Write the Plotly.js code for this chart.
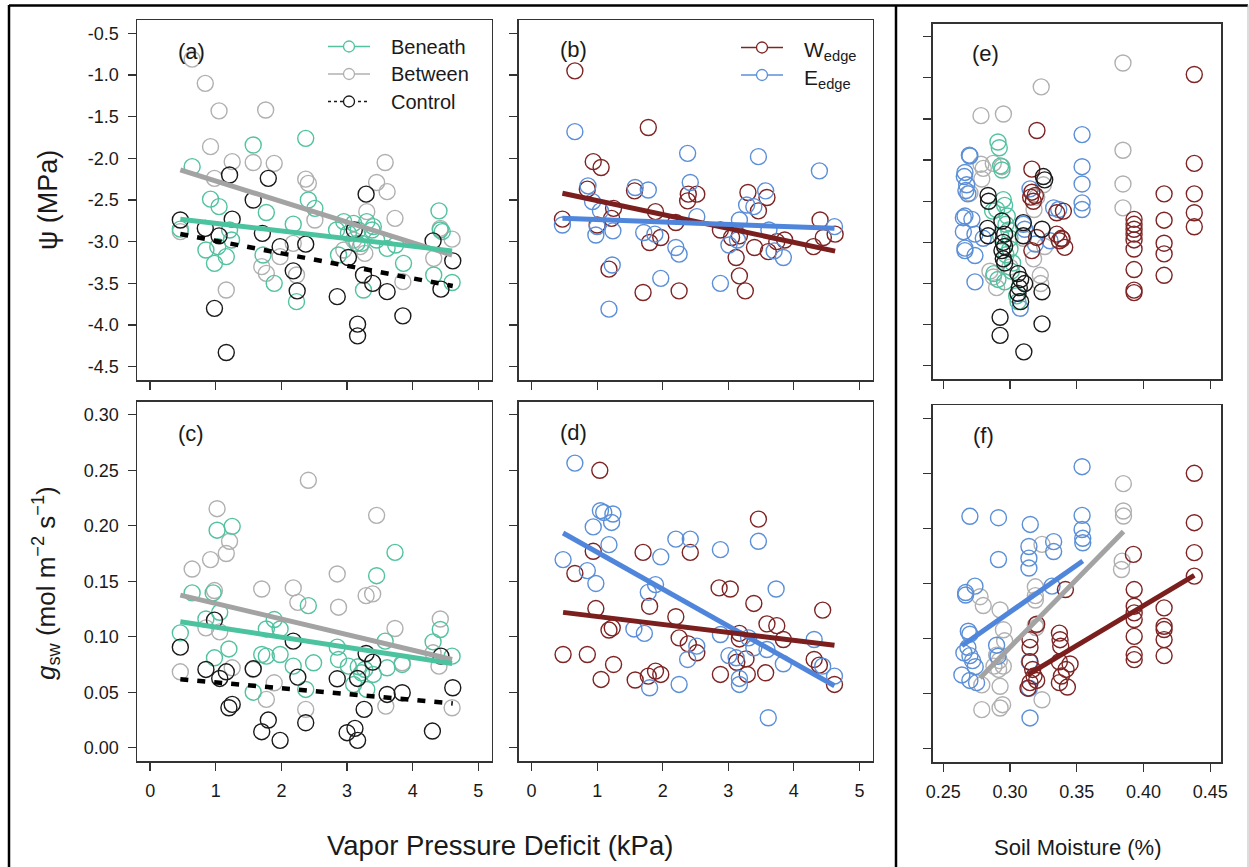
<!DOCTYPE html>
<html><head><meta charset="utf-8">
<script src="https://cdn.plot.ly/plotly-3.0.1.min.js"></script>
<style>html,body{margin:0;padding:0;background:#fff;}#chart{width:1249px;height:867px;}</style>
</head><body><div id="chart"></div>
<script>
// ---------- DATA ----------
// Panel (a): water potential vs VPD
const aBeneathVpd = [0.64,0.46,0.85,0.92,1.05,0.98,1.03,1.16,1.24,1.21,1.57,1.77,1.72,1.89,2.37,2.41,2.51,2.18,2.23,2.84,2.95,2.87,3.02,3.10,3.17,3.22,3.30,3.38,3.40,3.45,3.25,3.61,3.86,4.40,4.42,4.32,4.60,4.45,3.74,3.15];
const aBeneathPsi = [-2.10,-2.85,-3.10,-2.49,-2.58,-3.26,-3.06,-3.18,-2.98,-2.86,-1.84,-2.65,-3.16,-3.50,-1.76,-2.50,-2.60,-2.79,-3.72,-2.86,-2.76,-3.16,-2.90,-2.78,-2.86,-3.02,-2.76,-2.86,-2.82,-2.98,-3.58,-3.08,-3.26,-2.63,-2.86,-3.40,-3.49,-2.88,-3.04,-3.02];
const aBetweenVpd = [0.64,0.84,1.05,0.92,0.98,1.25,1.76,1.57,1.89,1.16,1.70,1.77,1.98,2.18,2.23,2.37,2.41,2.51,3.58,3.45,3.61,3.30,3.73,3.20,3.27,3.85,4.32,4.42,4.60,0.46,2.95,3.10];
const aBetweenPsi = [-0.81,-1.10,-1.43,-1.86,-2.24,-2.04,-1.42,-2.05,-2.06,-3.58,-3.30,-3.38,-3.18,-3.02,-3.40,-2.25,-2.30,-2.74,-2.05,-2.29,-2.40,-2.64,-2.72,-3.06,-3.14,-3.48,-3.20,-2.84,-2.97,-2.88,-3.10,-2.98];
const aControlVpd = [0.46,0.84,1.05,1.25,1.21,0.98,1.16,1.57,1.71,1.80,1.98,2.18,2.24,2.37,2.85,3.02,3.11,3.29,3.25,3.39,3.16,3.16,3.61,3.85,4.31,4.43,4.61];
const aControlPsi = [-2.74,-2.84,-2.93,-2.73,-2.20,-3.80,-4.33,-2.50,-2.90,-2.24,-3.06,-3.35,-3.59,-3.03,-3.66,-3.19,-2.86,-2.43,-3.40,-3.50,-3.99,-4.13,-3.60,-3.89,-2.99,-3.57,-3.23];
// Panel (b)
const bWedgeVpd = [0.66,1.78,0.94,1.06,0.85,0.47,1.00,1.25,1.22,1.57,1.89,1.80,1.97,1.18,1.70,2.25,2.20,2.39,2.52,2.38,2.88,3.05,3.17,3.12,3.17,3.26,3.30,3.46,3.59,3.40,3.61,3.74,3.86,4.30,4.40,4.45,4.63];
const bWedgePsi = [-0.95,-1.63,-2.04,-2.11,-2.37,-2.73,-2.80,-2.60,-2.72,-2.39,-2.64,-3.01,-2.95,-3.33,-3.61,-3.59,-2.77,-2.43,-2.43,-2.51,-2.86,-2.95,-2.93,-3.19,-3.41,-3.59,-2.41,-2.63,-2.47,-3.07,-3.12,-3.00,-2.98,-3.06,-2.74,-2.95,-2.91];
const bEedgeVpd = [0.66,0.47,0.86,0.93,1.05,0.98,1.24,1.23,1.18,1.58,1.78,1.71,1.88,1.97,2.38,2.42,2.52,2.20,2.25,2.88,3.01,3.17,3.28,3.39,3.46,3.57,3.62,3.84,3.70,4.39,4.62,3.14,1.00];
const bEedgePsi = [-1.68,-2.80,-2.33,-2.52,-2.63,-2.92,-2.87,-3.28,-3.81,-2.35,-2.38,-2.89,-2.91,-3.44,-1.94,-2.29,-2.70,-3.07,-3.15,-3.50,-3.04,-2.74,-2.56,-2.58,-1.98,-2.39,-2.86,-3.19,-3.11,-2.15,-2.82,-2.98,-2.82];
// Panel (c): stomatal conductance vs VPD
const cBeneathVpd = [0.46,0.64,0.96,1.02,1.25,1.06,0.98,1.20,1.57,1.70,1.77,1.77,1.89,1.98,1.98,2.18,2.41,2.37,2.49,2.85,2.87,3.02,3.10,3.17,3.22,3.27,3.30,3.40,3.45,3.58,3.61,3.73,3.84,4.31,4.42,4.60,0.85];
const cBeneathGsw = [0.1035,0.1395,0.1395,0.196,0.1995,0.122,0.081,0.089,0.050,0.084,0.0825,0.107,0.1155,0.084,0.107,0.0735,0.128,0.0525,0.0765,0.0906,0.0795,0.0735,0.057,0.073,0.0675,0.0705,0.0525,0.066,0.155,0.096,0.072,0.176,0.075,0.0954,0.1065,0.0825,0.116];
const cBetweenVpd = [0.46,0.64,0.92,1.02,1.16,1.21,0.85,0.98,1.06,1.25,1.70,1.57,1.77,1.89,2.18,2.25,2.41,2.37,2.85,2.87,3.29,3.39,3.45,3.73,3.59,3.84,4.42,4.40,4.31,4.60];
const cBetweenGsw = [0.0684,0.161,0.1695,0.2154,0.175,0.186,0.108,0.1416,0.1044,0.072,0.143,0.0705,0.0435,0.0585,0.144,0.131,0.241,0.0345,0.1566,0.1266,0.137,0.1386,0.2094,0.1074,0.0375,0.0765,0.116,0.0735,0.0855,0.036];
const cControlVpd = [0.46,0.85,0.98,1.06,1.16,1.20,1.25,1.57,1.70,1.80,1.98,2.18,2.25,2.37,2.85,3.00,3.12,3.16,3.16,3.26,3.29,3.39,3.61,3.84,4.30,4.43,4.61];
const cControlGsw = [0.0906,0.0705,0.115,0.0624,0.0684,0.036,0.039,0.0711,0.0144,0.0249,0.0066,0.096,0.0636,0.0225,0.0621,0.0135,0.0174,0.0624,0.0066,0.0345,0.0849,0.0771,0.048,0.0495,0.015,0.0825,0.054];
// Panel (d)
const dEedgeVpd = [0.66,1.05,1.10,1.24,1.22,0.94,1.18,0.48,0.85,0.98,1.78,1.89,1.97,2.20,2.42,2.88,3.46,3.73,1.56,1.72,2.52,2.38,1.80,2.25,2.88,3.01,3.12,3.17,3.17,3.31,3.39,3.59,3.84,3.61,4.31,4.44,4.62];
const dEedgeGsw = [0.2565,0.2136,0.212,0.2106,0.203,0.199,0.183,0.1695,0.1596,0.148,0.140,0.147,0.172,0.188,0.188,0.1785,0.186,0.143,0.107,0.103,0.0915,0.0795,0.054,0.057,0.102,0.083,0.081,0.0624,0.057,0.099,0.090,0.0885,0.0756,0.027,0.0975,0.0735,0.0645];
const dWedgeVpd = [1.04,0.66,0.94,0.98,0.48,0.85,1.06,1.25,1.18,1.23,1.70,1.80,1.58,1.78,1.89,1.97,2.20,2.42,2.25,2.39,2.52,2.86,3.03,2.88,3.17,3.17,3.13,3.27,3.29,3.39,3.46,3.59,3.74,3.84,3.57,4.31,4.39,4.44,4.62];
const dWedgeGsw = [0.250,0.157,0.177,0.1254,0.084,0.084,0.0615,0.075,0.106,0.108,0.176,0.1275,0.061,0.0645,0.069,0.066,0.118,0.176,0.099,0.0936,0.0855,0.144,0.143,0.066,0.103,0.098,0.077,0.080,0.066,0.130,0.206,0.1116,0.110,0.0975,0.0675,0.0795,0.0744,0.124,0.057];
// Panel (e): water potential vs soil moisture
const eBeneathSm  = [0.291,0.292,0.293,0.294,0.295,0.296,0.297,0.299,0.300,0.288,0.291,0.296,0.305,0.306,0.290,0.300,0.302,0.298,0.293,0.297,0.287,0.301];
const eBeneathPsi = [-1.78,-1.85,-2.07,-2.12,-2.48,-2.55,-2.78,-2.85,-3.08,-3.38,-3.45,-3.48,-3.65,-3.72,-2.60,-2.95,-3.25,-2.68,-2.92,-3.15,-2.62,-3.35];
const eBetweenSm  = [0.3846,0.3234,0.2783,0.2951,0.3846,0.3846,0.3846,0.2783,0.2875,0.280,0.2789,0.294,0.3227,0.2876,0.3177,0.323,0.325,0.300,0.285,0.318,0.310,0.270,0.326,0.290,0.320];
const eBetweenPsi = [-0.82,-1.11,-1.46,-1.44,-1.88,-2.29,-2.58,-2.05,-2.04,-2.10,-2.23,-2.08,-3.40,-3.42,-3.20,-3.50,-2.30,-3.30,-3.35,-2.60,-2.95,-2.40,-3.05,-3.55,-2.45];
const eControlSm  = [0.325,0.326,0.2836,0.2840,0.2832,0.2836,0.294,0.295,0.296,0.295,0.296,0.310,0.310,0.324,0.306,0.308,0.307,0.306,0.308,0.324,0.2926,0.2926,0.324,0.3104,0.296,0.311,0.294];
const eControlPsi = [-2.20,-2.24,-2.43,-2.50,-2.83,-2.92,-2.74,-3.00,-3.05,-3.20,-3.25,-2.76,-2.92,-2.84,-3.38,-3.45,-3.55,-3.62,-3.72,-3.60,-3.91,-4.13,-3.99,-4.33,-2.90,-3.50,-3.10];
const eWedgeSm  = [0.438,0.3202,0.438,0.438,0.438,0.438,0.4154,0.4154,0.4154,0.4154,0.4154,0.3929,0.3929,0.3929,0.3929,0.3929,0.3929,0.3929,0.3929,0.3929,0.3164,0.3164,0.319,0.3155,0.335,0.340,0.335,0.3386,0.341,0.337,0.3164,0.320,0.3175,0.339];
const eWedgePsi = [-0.96,-1.64,-2.04,-2.41,-2.64,-2.81,-2.41,-2.73,-3.01,-3.14,-3.40,-2.72,-2.78,-2.84,-2.90,-2.97,-3.08,-3.33,-3.58,-3.61,-2.11,-2.39,-2.43,-2.45,-2.64,-2.62,-2.90,-2.95,-3.06,-2.98,-3.10,-2.94,-2.50,-2.96];
const eEedgeSm  = [0.354,0.354,0.354,0.354,0.354,0.2696,0.2663,0.267,0.2685,0.2663,0.2715,0.2651,0.2738,0.2663,0.2738,0.2738,0.315,0.310,0.311,0.319,0.330,0.3327,0.3365,0.2676,0.2658,0.270,0.2651,0.3077,0.2663,0.280];
const eEedgePsi = [-1.69,-2.08,-2.29,-2.52,-2.60,-1.94,-2.15,-2.37,-2.41,-2.68,-2.72,-2.87,-2.90,-3.07,-3.16,-3.48,-2.35,-2.78,-2.84,-3.02,-2.98,-2.58,-2.60,-2.30,-2.20,-1.95,-2.70,-3.80,-3.10,-2.95];
// Panel (f): stomatal conductance vs soil moisture
const fEedgeSm  = [0.354,0.270,0.2914,0.3152,0.354,0.354,0.3545,0.3545,0.2914,0.3142,0.3142,0.3142,0.3327,0.3327,0.3315,0.2668,0.2668,0.2738,0.2688,0.2700,0.2685,0.2700,0.2720,0.2740,0.264,0.270,0.275,0.290,0.291,0.3145,0.3145,0.315,0.2655];
const fEedgeGsw = [0.256,0.211,0.2097,0.2036,0.2118,0.199,0.191,0.187,0.1718,0.1836,0.173,0.164,0.188,0.179,0.1476,0.1418,0.1395,0.1476,0.1067,0.104,0.092,0.0845,0.080,0.0745,0.067,0.062,0.060,0.094,0.084,0.079,0.055,0.028,0.087];
const fBetweenSm  = [0.3849,0.3849,0.385,0.384,0.3835,0.324,0.319,0.319,0.319,0.2926,0.2776,0.319,0.3195,0.2951,0.290,0.292,0.295,0.288,0.2915,0.2789,0.2926,0.2789,0.2926,0.2945,0.324,0.296,0.280];
const fBetweenGsw = [0.2406,0.2158,0.2112,0.1703,0.1627,0.1855,0.147,0.139,0.135,0.126,0.138,0.112,0.110,0.108,0.085,0.080,0.075,0.075,0.072,0.058,0.0567,0.0355,0.037,0.040,0.0445,0.098,0.130];
const fWedgeSm  = [0.438,0.438,0.438,0.438,0.3924,0.393,0.393,0.393,0.393,0.393,0.393,0.393,0.4154,0.4154,0.4154,0.4154,0.4154,0.3415,0.315,0.315,0.320,0.337,0.3375,0.338,0.315,0.317,0.318,0.315,0.320,0.3135,0.337,0.342,0.3385,0.337,0.343,0.345];
const fWedgeGsw = [0.250,0.2052,0.178,0.1567,0.1764,0.1445,0.1294,0.1233,0.1173,0.102,0.0855,0.0809,0.1279,0.1112,0.1082,0.0991,0.0845,0.1445,0.099,0.092,0.113,0.105,0.099,0.093,0.079,0.072,0.066,0.060,0.062,0.055,0.079,0.072,0.066,0.060,0.056,0.077];
// Linear fits [intercept, slope]
const fitA_Beneath = [-2.689, -0.0916];
const fitA_Between = [-2.024, -0.247];
const fitA_Control = [-2.84, -0.150];
const fitB_Wedge = [-2.34, -0.167];
const fitB_Eedge = [-2.706, -0.029];
const fitC_Beneath = [0.1177, -0.00908];
const fitC_Between = [0.144, -0.01402];
const fitC_Control = [0.0641, -0.00525];
const fitD_Eedge = [0.2095, -0.03327];
const fitD_Wedge = [0.1254, -0.00717];
const fitF_Eedge = [-0.1311, 0.8506];
const fitF_Between = [-0.2792, 1.2375];
const fitF_Wedge = [-0.1595, 0.7234];
// Tick values and legend labels
const vpdTicks = [0,1,2,3,4,5];
const psiTicks = [-0.5,-1.0,-1.5,-2.0,-2.5,-3.0,-3.5,-4.0,-4.5];
const gswTicks = [0,0.05,0.10,0.15,0.20,0.25,0.30];
const smTicks = [0.25,0.30,0.35,0.40,0.45];
const legendSiteNames = ['Beneath','Between','Control'];
const legendEdgeNames = ['W<sub>edge</sub>','E<sub>edge</sub>'];

// ---------- STYLE ----------
const C = {
  beneath: '#52c2a0', beneathLine: '#4cc39f',
  between: '#b0b0b0', betweenLine: '#a3a3a3',
  control: '#1a1a1a', controlLine: '#000000',
  wedge: '#7e2424', wedgeLine: '#7a1e1e',
  eedge: '#5b8fd8', eedgeLine: '#4f86dc'
};
const FONT = 'Liberation Sans, Arial, Helvetica, sans-serif';
const W = 1249, H = 867;
const px = v => v / W, py = v => 1 - v / H;

function pts(x, y, color, xa, ya) {
  return {x: x, y: y, type: 'scatter', mode: 'markers', xaxis: xa, yaxis: ya, showlegend: false, hoverinfo: 'skip',
    marker: {symbol: 'circle-open', size: 16, color: color, line: {width: 1.4, color: color}}};
}
function fit(coef, xs, color, xa, ya, dash) {
  const x0 = Math.min.apply(null, xs), x1 = Math.max.apply(null, xs);
  return {x: [x0, x1], y: [coef[0] + coef[1] * x0, coef[0] + coef[1] * x1], type: 'scatter', mode: 'lines',
    xaxis: xa, yaxis: ya, showlegend: false, hoverinfo: 'skip',
    line: {color: color, width: dash ? 4.5 : 5, dash: dash || 'solid'}};
}

const traces = [
  // (a)
  pts(aBetweenVpd, aBetweenPsi, C.between, 'x', 'y'),
  pts(aBeneathVpd, aBeneathPsi, C.beneath, 'x', 'y'),
  pts(aControlVpd, aControlPsi, C.control, 'x', 'y'),
  fit(fitA_Between, aBetweenVpd, C.betweenLine, 'x', 'y'),
  fit(fitA_Beneath, aBeneathVpd, C.beneathLine, 'x', 'y'),
  fit(fitA_Control, aControlVpd, C.controlLine, 'x', 'y', '8px,9px'),
  // (b)
  pts(bWedgeVpd, bWedgePsi, C.wedge, 'x2', 'y2'),
  pts(bEedgeVpd, bEedgePsi, C.eedge, 'x2', 'y2'),
  fit(fitB_Wedge, bWedgeVpd, C.wedgeLine, 'x2', 'y2'),
  fit(fitB_Eedge, bEedgeVpd, C.eedgeLine, 'x2', 'y2'),
  // (e)
  pts(eBetweenSm, eBetweenPsi, C.between, 'x3', 'y3'),
  pts(eEedgeSm, eEedgePsi, C.eedge, 'x3', 'y3'),
  pts(eBeneathSm, eBeneathPsi, C.beneath, 'x3', 'y3'),
  pts(eWedgeSm, eWedgePsi, C.wedge, 'x3', 'y3'),
  pts(eControlSm, eControlPsi, C.control, 'x3', 'y3'),
  // (c)
  pts(cBetweenVpd, cBetweenGsw, C.between, 'x4', 'y4'),
  pts(cBeneathVpd, cBeneathGsw, C.beneath, 'x4', 'y4'),
  pts(cControlVpd, cControlGsw, C.control, 'x4', 'y4'),
  fit(fitC_Between, cBetweenVpd, C.betweenLine, 'x4', 'y4'),
  fit(fitC_Beneath, cBeneathVpd, C.beneathLine, 'x4', 'y4'),
  fit(fitC_Control, cControlVpd, C.controlLine, 'x4', 'y4', '8px,9px'),
  // (d)
  pts(dWedgeVpd, dWedgeGsw, C.wedge, 'x5', 'y5'),
  pts(dEedgeVpd, dEedgeGsw, C.eedge, 'x5', 'y5'),
  fit(fitD_Eedge, dEedgeVpd, C.eedgeLine, 'x5', 'y5'),
  fit(fitD_Wedge, dWedgeVpd, C.wedgeLine, 'x5', 'y5'),
  // (f)
  pts(fBetweenSm, fBetweenGsw, C.between, 'x6', 'y6'),
  pts(fEedgeSm, fEedgeGsw, C.eedge, 'x6', 'y6'),
  pts(fWedgeSm, fWedgeGsw, C.wedge, 'x6', 'y6'),
  fit(fitF_Eedge, fEedgeSm, C.eedgeLine, 'x6', 'y6'),
  fit(fitF_Between, fBetweenSm, C.betweenLine, 'x6', 'y6'),
  fit(fitF_Wedge, fWedgeSm, C.wedgeLine, 'x6', 'y6')
];

function ax(domain, range, tickvals, showLabels, digits) {
  return {domain: domain, range: range, tickmode: 'array', tickvals: tickvals,
    ticktext: tickvals.map(v => digits === undefined ? String(v) : v.toFixed(digits)),
    showticklabels: showLabels,
    ticks: 'outside', ticklen: 8, tickwidth: 1.3, tickcolor: '#333', showline: true, linecolor: '#333', linewidth: 1.5,
    mirror: true, showgrid: false, zeroline: false, fixedrange: true,
    tickfont: {family: FONT, size: 18, color: '#1a1a1a'}, ticklabelstandoff: 5};
}
const xTop = [px(137), px(491.5)], xMid = [px(518.5), px(872.5)], xRight = [px(932.5), px(1221)];
const yTopD = [py(380), py(20)], yBotD = [py(761), py(401.5)];
const yTopE = [py(379), py(23.5)], yBotF = [py(762), py(405)];
const vpdRange = [-0.2, 5.2], smRange = [0.242, 0.458], psiRange = [-4.66, -0.34], gswRange = [-0.012, 0.312];

// manual legends (shapes + annotations)
const legShapes = [], legAnn = [];
function legendItem(name, color, dash, lx0, lx1, tx, y, fs, yshift) {
  const cx = (lx0 + lx1) / 2, r = 5.5;
  legShapes.push({type: 'line', xref: 'paper', yref: 'paper', x0: px(lx0), x1: px(lx1), y0: py(y), y1: py(y),
    line: {color: color, width: 1.3, dash: dash}});
  legShapes.push({type: 'circle', xref: 'paper', yref: 'paper', x0: px(cx - r), x1: px(cx + r), y0: py(y + r), y1: py(y - r),
    fillcolor: '#fff', line: {color: color, width: 1.3}});
  legAnn.push({text: name, x: px(tx), y: py(y), xref: 'paper', yref: 'paper', showarrow: false, xanchor: 'left',
    yanchor: 'middle', yshift: yshift || 0, font: {family: FONT, size: fs, color: '#1a1a1a'}});
}
const siteColors = [C.beneath, C.between, C.control], siteDash = ['solid', 'solid', 'dot'];
legendSiteNames.forEach((n, i) => legendItem(n, siteColors[i], siteDash[i], 328, 370, 389, 46.5 + i * 27.5, 20, 0));
const edgeColors = [C.wedge, C.eedge];
legendEdgeNames.forEach((n, i) => legendItem(n, edgeColors[i], 'solid', 741, 783, 802, 47.5 + i * 27.5, 21, -4));

const layout = {
  width: W, height: H, margin: {l: 0, r: 0, t: 0, b: 0}, paper_bgcolor: '#fff', plot_bgcolor: '#fff',
  font: {family: FONT, color: '#1a1a1a'}, hovermode: false, showlegend: false,
  xaxis:  Object.assign(ax(xTop, vpdRange, vpdTicks, false), {anchor: 'y'}),
  yaxis:  Object.assign(ax(yTopD, psiRange, psiTicks, true, 1), {anchor: 'x'}),
  xaxis2: Object.assign(ax(xMid, vpdRange, vpdTicks, false), {anchor: 'y2'}),
  yaxis2: Object.assign(ax(yTopD, psiRange, psiTicks, false, 1), {anchor: 'x2'}),
  xaxis3: Object.assign(ax(xRight, smRange, smTicks, false, 2), {anchor: 'y3'}),
  yaxis3: Object.assign(ax(yTopE, psiRange, psiTicks, false, 1), {anchor: 'x3'}),
  xaxis4: Object.assign(ax(xTop, vpdRange, vpdTicks, true), {anchor: 'y4'}),
  yaxis4: Object.assign(ax(yBotD, gswRange, gswTicks, true, 2), {anchor: 'x4'}),
  xaxis5: Object.assign(ax(xMid, vpdRange, vpdTicks, true), {anchor: 'y5'}),
  yaxis5: Object.assign(ax(yBotD, gswRange, gswTicks, false, 2), {anchor: 'x5'}),
  xaxis6: Object.assign(ax(xRight, smRange, smTicks, true, 2), {anchor: 'y6'}),
  yaxis6: Object.assign(ax(yBotF, gswRange, gswTicks, false, 2), {anchor: 'x6'}),
  annotations: [
    {text: '(a)', x: px(191), y: py(52)},
    {text: '(b)', x: px(573), y: py(50)},
    {text: '(e)', x: px(985), y: py(54)},
    {text: '(c)', x: px(191), y: py(433)},
    {text: '(d)', x: px(573), y: py(432)},
    {text: '(f)', x: px(983), y: py(435)}
  ].map(a => Object.assign({xref: 'paper', yref: 'paper', showarrow: false, xanchor: 'center', yanchor: 'middle',
    font: {family: FONT, size: 22, color: '#1a1a1a'}}, a)).concat([
    {text: 'ψ (MPa)', x: px(48), y: py(200), xref: 'paper', yref: 'paper', showarrow: false, textangle: -90,
      xanchor: 'center', yanchor: 'middle', font: {family: FONT, size: 27, color: '#1a1a1a'}},
    {text: '<i>g</i><sub>sw</sub> (mol m<sup>−2</sup> s<sup>−1</sup>)', x: px(46), y: py(583), xref: 'paper', yref: 'paper',
      showarrow: false, textangle: -90, xanchor: 'center', yanchor: 'middle', font: {family: FONT, size: 26, color: '#1a1a1a'}},
    {text: 'Vapor Pressure Deficit (kPa)', x: px(500), y: py(845), xref: 'paper', yref: 'paper', showarrow: false,
      xanchor: 'center', yanchor: 'middle', font: {family: FONT, size: 27.5, color: '#1a1a1a'}},
    {text: 'Soil Moisture (%)', x: px(1077), y: py(847), xref: 'paper', yref: 'paper', showarrow: false,
      xanchor: 'center', yanchor: 'middle', font: {family: FONT, size: 22, color: '#1a1a1a'}}
  ]).concat(legAnn),
  shapes: [
    {type: 'line', xref: 'paper', yref: 'paper', x0: px(9), x1: px(9), y0: py(5), y1: -0.01, line: {color: '#000', width: 2.5}},
    {type: 'line', xref: 'paper', yref: 'paper', x0: px(9), x1: px(1248), y0: py(5.5), y1: py(5.5), line: {color: '#000', width: 2.5}},
    {type: 'line', xref: 'paper', yref: 'paper', x0: px(896), x1: px(896), y0: py(5), y1: -0.01, line: {color: '#000', width: 2.5}},
    {type: 'line', xref: 'paper', yref: 'paper', x0: px(1248), x1: px(1248), y0: py(5), y1: -0.01, line: {color: '#bbb', width: 1}}
  ].concat(legShapes)
};

Plotly.newPlot('chart', traces, layout, {staticPlot: true, displayModeBar: false});
</script></body></html>
